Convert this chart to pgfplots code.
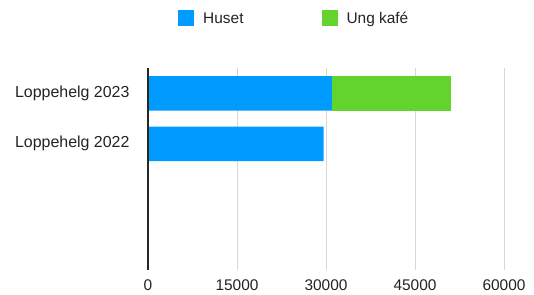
\documentclass[border=0pt]{standalone}
\usepackage{fontspec}
\setmainfont{Liberation Sans}
\usepackage{pgfplots}
\pgfplotsset{compat=1.18}
\definecolor{huset}{RGB}{0,155,255}
\definecolor{ung}{RGB}{99,212,45}
\definecolor{txt}{RGB}{35,35,35}
\definecolor{gridc}{RGB}{215,215,215}
\begin{document}
\begin{tikzpicture}[font=\fontsize{15.5}{18}\selectfont]
\path[use as bounding box] (-148bp,-25bp) rectangle (386bp,270bp);
\begin{axis}[
  at={(0,0)}, anchor=south west,
  scale only axis, width=356bp, height=202bp,
  xbar stacked, bar width=34.5bp,
  xmin=0, xmax=60000,
  ymin=-0.5, ymax=3.5, y dir=reverse,
  ytick={0,1}, yticklabels={Loppehelg 2023, Loppehelg 2022},
  xtick={0,15000,30000,45000,60000},
  scaled x ticks=false,
  /pgf/number format/1000 sep={},
  /pgf/number format/assume math mode=true,
  major tick length=0pt,
  xmajorgrids, grid style={gridc, line width=0.8pt},
  axis line style={draw=none},
  tick label style={font=\fontsize{15.5}{18}\selectfont, text=txt},
  yticklabel style={xshift=-15bp, font=\fontsize{16}{18}\selectfont},
  xticklabel style={yshift=-6bp},
  legend columns=2,
  legend style={draw=none, fill=none, inner sep=0pt,
    at={(0.0843,1.29)}, anchor=north west,
    nodes={inner sep=0pt, text=txt, font=\fontsize{15.5}{18}\selectfont},
    /tikz/every even column/.append style={column sep=78bp},
    /tikz/every odd column/.append style={column sep=9bp}},
  legend image code/.code={\fill[#1] (0bp,-7bp) rectangle (16bp,9bp);},
  after end axis/.code={\draw[black!85, line width=1.3pt] (rel axis cs:0,0) -- (rel axis cs:0,1);},
]
\addplot[fill=huset, draw=none] coordinates {(31000,0) (29600,1)};
\addplot[fill=ung, draw=none] coordinates {(20000,0) (0,1)};
\legend{Huset, Ung kafé}
\end{axis}
\end{tikzpicture}
\end{document}
